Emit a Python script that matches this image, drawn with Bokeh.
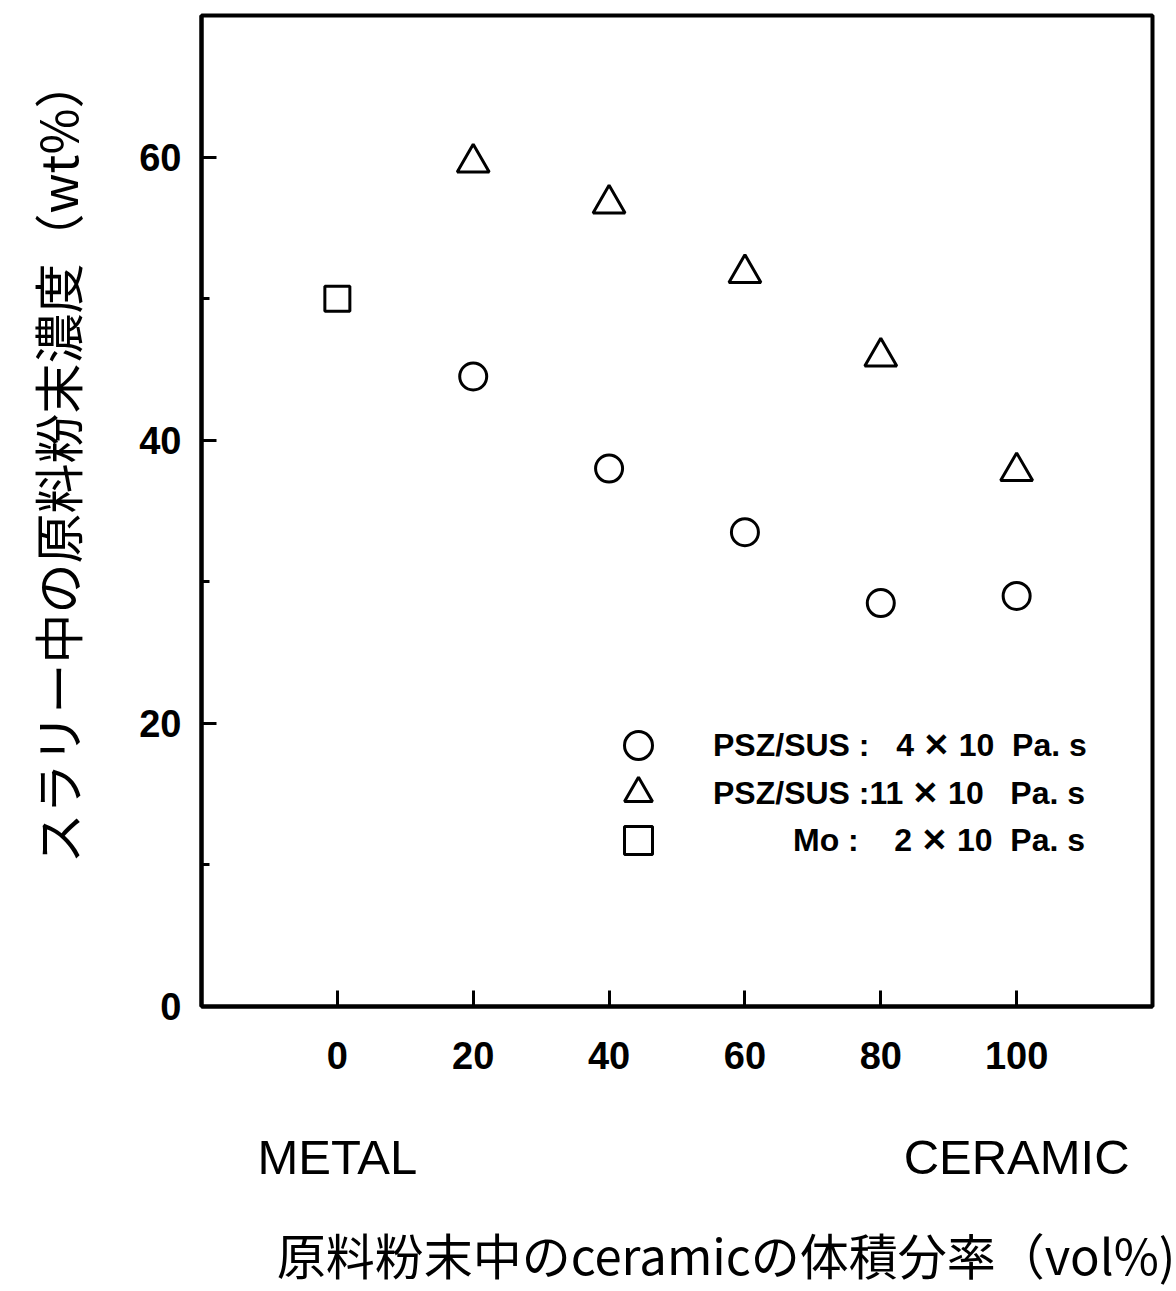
from bokeh.plotting import figure
from bokeh.models import FixedTicker, LinearAxis, Legend, LegendItem, Range1d
from bokeh.embed import file_html
from bokeh.resources import INLINE

# ---- data ----
x_circle = [20, 40, 60, 80, 100]
y_circle = [44.5, 38.0, 33.5, 28.5, 29.0]
x_triangle = [20, 40, 60, 80, 100]
y_triangle = [59.6, 56.7, 51.8, 45.9, 37.8]
x_square = [0]
y_square = [50.0]

x_ticks = [0, 20, 40, 60, 80, 100]
y_major_ticks = [0, 20, 40, 60]
y_minor_ticks = [10, 30, 50]
end_ticks = [0, 100]
end_labels = ["METAL", "CERAMIC"]

NB = "\u00a0"
X = NB + "\u2715" + NB
legend_labels = [
    "PSZ/SUS :" + NB * 3 + "4" + X + "10" + NB * 2 + "Pa. s",
    "PSZ/SUS :" + "11" + X + "10" + NB * 3 + "Pa. s",
    NB * 9 + "Mo :" + NB * 4 + "2" + X + "10" + NB * 2 + "Pa. s",
]
x_title = "\u3000\u3000原料粉末中のceramicの体積分率（vol%)"
y_title = "\u3000\u3000スラリー中の原料粉末濃度（wt%）"

LAT = "Liberation Sans"
CJK = "Noto Sans CJK JP"

p = figure(width=1176, height=1291,
           x_range=Range1d(-20, 120), y_range=Range1d(0, 70),
           output_backend="svg", toolbar_location=None,
           min_border_left=201, min_border_top=15,
           min_border_right=24, min_border_bottom=283)
p.xgrid.visible = False
p.ygrid.visible = False
p.outline_line_color = "black"
p.outline_line_width = 4
p.background_fill_color = "white"
p.border_fill_color = "white"

xa = p.xaxis[0]
xa.ticker = FixedTicker(ticks=x_ticks)
xa.axis_line_width = 4
xa.major_tick_in = 16
xa.major_tick_out = 0
xa.major_tick_line_width = 3
xa.minor_tick_line_color = None
xa.major_label_text_font = LAT
xa.major_label_text_font_style = "bold"
xa.major_label_text_font_size = "38px"
xa.major_label_text_color = "black"
xa.major_label_standoff = 35

ya = p.yaxis[0]
ya.ticker = FixedTicker(ticks=y_major_ticks, minor_ticks=y_minor_ticks)
ya.axis_line_width = 4
ya.major_tick_in = 15
ya.major_tick_out = 0
ya.major_tick_line_width = 3
ya.minor_tick_in = 8
ya.minor_tick_out = 0
ya.minor_tick_line_width = 3
ya.major_label_text_font = LAT
ya.major_label_text_font_style = "bold"
ya.major_label_text_font_size = "38px"
ya.major_label_text_color = "black"
ya.major_label_standoff = 20
ya.axis_label = y_title
ya.axis_label_text_font = CJK
ya.axis_label_text_font_style = "normal"
ya.axis_label_text_font_size = "50px"
ya.axis_label_text_color = "black"
ya.axis_label_standoff = 44

xa2 = LinearAxis(ticker=FixedTicker(ticks=end_ticks),
                 major_label_overrides={t: l for t, l in zip(end_ticks, end_labels)})
xa2.axis_line_color = None
xa2.major_tick_line_color = None
xa2.minor_tick_line_color = None
xa2.major_label_text_font = LAT
xa2.major_label_text_font_style = "normal"
xa2.major_label_text_font_size = "49px"
xa2.major_label_text_color = "black"
xa2.major_label_standoff = 52
xa2.axis_label = x_title
xa2.axis_label_text_font = CJK
xa2.axis_label_text_font_style = "normal"
xa2.axis_label_text_font_size = "49px"
xa2.axis_label_text_color = "black"
xa2.axis_label_standoff = 31
p.add_layout(xa2, "below")

r_c = p.scatter(x_circle, y_circle, marker="circle", size=27,
                fill_color="white", line_color="black", line_width=3)
r_t = p.scatter(x_triangle, y_triangle, marker="triangle", size=32,
                fill_color="white", line_color="black", line_width=3)
r_s = p.scatter(x_square, y_square, marker="square", size=25,
                fill_color="white", line_color="black", line_width=3)

# one legend box per row so that rows can sit closer than the glyph box height
legend_rows = [(r_c, 226), (r_t, 178), (r_s, 131)]
for (rend, yoff), lab in zip(legend_rows, legend_labels):
    lg = Legend(items=[LegendItem(label=lab, renderers=[rend])],
                location=(402, yoff), glyph_width=70, glyph_height=70,
                padding=0, margin=0, spacing=0,
                border_line_color=None, background_fill_alpha=0,
                label_text_font=LAT, label_text_font_style="bold",
                label_text_font_size="32px", label_text_color="black",
                label_standoff=40)
    p.add_layout(lg)

open("out.html", "w").write(file_html(p, INLINE))
